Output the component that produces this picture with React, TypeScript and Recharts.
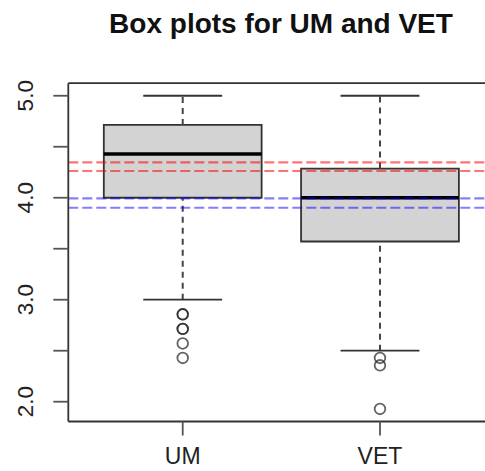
import React from 'react';
import {
  ComposedChart,
  XAxis,
  YAxis,
  Scatter,
  ReferenceArea,
  ReferenceLine,
} from 'recharts';

const categories = ['UM', 'VET'];
const lowerWhisker = [3.0, 2.5];
const q1 = [4.0, 3.571];
const median = [4.429, 4.0];
const q3 = [4.714, 4.286];
const upperWhisker = [5.0, 5.0];
const umOutliers = [2.857, 2.857, 2.714, 2.714, 2.571, 2.429];
const vetOutliers = [2.429, 2.357, 1.929];
const redLines = [4.347, 4.262];
const blueLines = [3.994, 3.902];
const yTicks = [2, 2.5, 3, 3.5, 4, 4.5, 5];
const xTicks = [1, 2];

const Y_MIN = 1.806;
const Y_MAX = 5.123;
const X_MIN = 0.42;
const X_MAX = 2.58;
const BOX_HALF = 0.4;
const CAP_HALF = 0.2;

const FONT = '"Liberation Sans", Arial, sans-serif';
const INK = '#333';

const outlierData = [
  ...umOutliers.map((v) => ({ x: 1, y: v })),
  ...vetOutliers.map((v) => ({ x: 2, y: v })),
];

const YTick = (props: any) => {
  const { x, y, payload } = props;
  const v = payload.value;
  if (Math.abs(v - Math.round(v)) > 1e-6) return null;
  return (
    <text
      x={x}
      y={y}
      transform={`rotate(-90, ${x}, ${y})`}
      textAnchor="middle"
      fontFamily={FONT}
      fontSize={22.5}
      fill="#222"
    >
      {v.toFixed(1)}
    </text>
  );
};

const XTick = (props: any) => {
  const { x, y, payload } = props;
  return (
    <text
      x={x}
      y={y + 16.5}
      textAnchor="middle"
      fontFamily={FONT}
      fontSize={23}
      fill="#222"
    >
      {categories[payload.value - 1]}
    </text>
  );
};

const Circle = (props: any) => {
  const { cx, cy } = props;
  return (
    <circle cx={cx} cy={cy} r={5.3} fill="none" stroke="#222" strokeOpacity={0.7} strokeWidth={1.8} />
  );
};

export default function App() {
  const boxes = categories.map((c, i) => {
    const x = i + 1;
    return (
      <React.Fragment key={c}>
        <ReferenceLine
          segment={[{ x, y: q3[i] }, { x, y: upperWhisker[i] }]}
          stroke="#444"
          strokeWidth={2}
          strokeDasharray="6 5"
        />
        <ReferenceLine
          segment={[{ x, y: lowerWhisker[i] }, { x, y: q1[i] }]}
          stroke="#444"
          strokeWidth={2}
          strokeDasharray="6 5"
        />
        <ReferenceLine
          segment={[{ x: x - CAP_HALF, y: upperWhisker[i] }, { x: x + CAP_HALF, y: upperWhisker[i] }]}
          stroke={INK}
          strokeWidth={1.8}
        />
        <ReferenceLine
          segment={[{ x: x - CAP_HALF, y: lowerWhisker[i] }, { x: x + CAP_HALF, y: lowerWhisker[i] }]}
          stroke={INK}
          strokeWidth={1.8}
        />
        <ReferenceArea
          x1={x - BOX_HALF}
          x2={x + BOX_HALF}
          y1={q1[i]}
          y2={q3[i]}
          fill="#D3D3D3"
          fillOpacity={1}
          stroke={INK}
          strokeWidth={1.8}
        />
        <ReferenceLine
          segment={[{ x: x - BOX_HALF, y: median[i] }, { x: x + BOX_HALF, y: median[i] }]}
          stroke="#000"
          strokeWidth={3.5}
        />
      </React.Fragment>
    );
  });

  return (
    <div style={{ position: 'absolute', left: 0, top: 0, width: 485, height: 471, overflow: 'hidden', background: '#fff' }}>
      <div
        style={{
          position: 'absolute',
          left: 0,
          top: 10,
          width: 562,
          textAlign: 'center',
          fontFamily: FONT,
          fontWeight: 'bold',
          fontSize: 28,
          lineHeight: '28px',
          color: '#111',
        }}
      >
        Box plots for UM and VET
      </div>
      <ComposedChart
        width={495}
        height={471}
        margin={{ top: 83.2, right: 0.6, bottom: 0, left: 0 }}
      >
        <XAxis
          type="number"
          dataKey="x"
          domain={[X_MIN, X_MAX]}
          ticks={xTicks}
          allowDataOverflow
          height={49.5}
          tickSize={14}
          tickMargin={12}
          tick={<XTick />}
          axisLine={{ stroke: INK, strokeWidth: 1.8 }}
          tickLine={{ stroke: '#555', strokeWidth: 1.8 }}
        />
        <YAxis
          type="number"
          dataKey="y"
          domain={[Y_MIN, Y_MAX]}
          ticks={yTicks}
          allowDataOverflow
          width={68.3}
          tickSize={15}
          tickMargin={20.3}
          tick={<YTick />}
          axisLine={{ stroke: INK, strokeWidth: 1.8 }}
          tickLine={{ stroke: '#555', strokeWidth: 1.8 }}
          interval={0}
        />
        <ReferenceLine y={Y_MAX} stroke={INK} strokeWidth={1.8} />
        {boxes}
        <Scatter data={outlierData} shape={<Circle />} isAnimationActive={false} />
        {redLines.map((v) => (
          <ReferenceLine key={'r' + v} y={v} stroke="rgba(255,0,0,0.55)" strokeWidth={2.2} strokeDasharray="10 4" />
        ))}
        {blueLines.map((v) => (
          <ReferenceLine key={'b' + v} y={v} stroke="rgba(0,0,255,0.5)" strokeWidth={2.2} strokeDasharray="10 4" />
        ))}
      </ComposedChart>
    </div>
  );
}
